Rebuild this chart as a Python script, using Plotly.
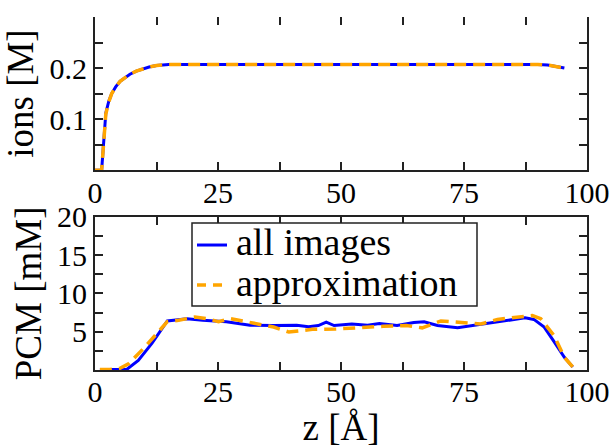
import plotly.graph_objects as go

# ---- data ----
ions_z = [0, 1.35, 2.2, 2.8, 3.4, 4.2, 5.1, 6.0, 7.1, 8.4, 9.8, 11.0, 12.5, 15, 20, 25, 30, 35, 40, 45, 50, 55, 60, 65, 70, 75, 80, 85, 90, 92, 95.4]
ions_all = [0, 0, 0.112, 0.135, 0.150, 0.163, 0.174, 0.181, 0.188, 0.194, 0.199, 0.202, 0.205, 0.207, 0.207, 0.207, 0.207, 0.207, 0.208, 0.207, 0.208, 0.208, 0.207, 0.207, 0.208, 0.207, 0.207, 0.207, 0.207, 0.206, 0.200]
ions_apx = [0, 0, 0.110, 0.134, 0.150, 0.163, 0.174, 0.181, 0.188, 0.194, 0.199, 0.202, 0.205, 0.207, 0.207, 0.207, 0.207, 0.207, 0.207, 0.207, 0.208, 0.208, 0.207, 0.207, 0.208, 0.207, 0.207, 0.207, 0.207, 0.206, 0.200]

pcm_z_all = [1, 2, 4, 6.5, 8.8, 11.6, 14.7, 18.7, 21.9, 26.7, 31.5, 36.3, 41, 43.4, 45.4, 47, 48.6, 52.2, 55.4, 57.8, 61.4, 64.8, 66.9, 69.6, 73.7, 77.7, 81.1, 85.1, 87.4, 89.2, 91.3, 93.3, 95.4, 97.1]
pcm_all = [0.05, 0.05, 0.05, 0.1, 1.24, 3.5, 6.4, 6.7, 6.5, 6.3, 5.85, 5.8, 5.85, 5.65, 5.8, 6.25, 5.8, 6.0, 5.85, 6.05, 5.8, 6.2, 6.3, 5.8, 5.5, 5.9, 6.2, 6.6, 6.8, 6.6, 5.6, 3.7, 1.65, 0.4]

pcm_z_apx = [1, 3, 5, 6.8, 10, 14.7, 17, 20.3, 22.7, 25.1, 27.5, 32.3, 36.3, 39.4, 44.2, 49, 53.8, 58.6, 63.3, 66.5, 70.3, 74.4, 78.4, 81.8, 86.5, 88.9, 90.6, 93.3, 95.4, 97.1]
pcm_apx = [0.05, 0.05, 0.2, 0.8, 2.9, 6.3, 6.5, 6.9, 6.7, 6.3, 6.7, 6.1, 5.6, 4.95, 5.3, 5.35, 5.55, 5.7, 5.8, 5.5, 6.4, 6.2, 6.0, 6.6, 6.9, 7.1, 6.7, 4.5, 1.65, 0.4]

series_names = ["all images", "approximation"]

x_ticks = [0, 25, 50, 75, 100]
x_minor = [12.5, 37.5, 62.5, 87.5]
ions_ticks = [0.1, 0.2]
ions_minor = [0.05, 0.15, 0.25]
pcm_ticks = [5, 10, 15, 20]
pcm_minor = [2.5, 7.5, 12.5, 17.5]

BLUE = "#0000ff"
ORANGE = "#ffa500"
FONT = "Liberation Serif, Times New Roman, Times, DejaVu Serif, serif"
AX = "#222222"
DASH = "12px,7px"

fig = go.Figure()
fig.add_trace(go.Scatter(x=ions_z, y=ions_all, mode="lines", line=dict(color=BLUE, width=3),
                         showlegend=False, xaxis="x", yaxis="y"))
fig.add_trace(go.Scatter(x=ions_z, y=ions_apx, mode="lines", line=dict(color=ORANGE, width=3.5, dash=DASH),
                         showlegend=False, xaxis="x", yaxis="y"))
fig.add_trace(go.Scatter(x=pcm_z_all, y=pcm_all, mode="lines", line=dict(color=BLUE, width=3),
                         name=series_names[0], showlegend=False, xaxis="x2", yaxis="y2"))
fig.add_trace(go.Scatter(x=pcm_z_apx, y=pcm_apx, mode="lines", line=dict(color=ORANGE, width=3.5, dash=DASH),
                         name=series_names[1], showlegend=False, xaxis="x2", yaxis="y2"))
# dummy trace for the top tick axis of the upper panel
fig.add_trace(go.Scatter(x=[None], y=[None], mode="lines", showlegend=False, xaxis="x3", yaxis="y", hoverinfo="skip"))

tickfont = dict(family=FONT, size=30, color="black")
titlefont = dict(family=FONT, size=37, color="black")

minor_common = dict(ticks="inside", ticklen=8, tickwidth=1.5, tickcolor=AX, showgrid=False)
common_x = dict(range=[0, 100], tickmode="array", tickvals=x_ticks, ticks="inside", ticklen=8,
                tickwidth=1.5, tickcolor=AX, showgrid=False, zeroline=False,
                minor=dict(tickmode="array", tickvals=x_minor, **minor_common))

# manual legend geometry (plot-area paper coords)
L, R, T, B = 95, 587, 0, 370
def px(x):
    return (x - L) / (R - L)
def py(y):
    return (B - y) / (B - T)

shapes = [
    dict(type="rect", xref="paper", yref="paper", x0=px(192), x1=px(477), y0=py(303), y1=py(216),
         line=dict(color=AX, width=1.5), fillcolor="white", layer="above"),
    dict(type="line", xref="paper", yref="paper", x0=px(197), x1=px(227), y0=py(239), y1=py(239),
         line=dict(color=BLUE, width=3), layer="above"),
    dict(type="line", xref="paper", yref="paper", x0=px(197), x1=px(229), y0=py(281), y1=py(281),
         line=dict(color=ORANGE, width=3.5, dash="9px,7px"), layer="above"),
]
annotations = [
    dict(text=series_names[0], xref="paper", yref="paper", x=px(234), y=py(236), xanchor="left",
         yanchor="middle", showarrow=False, font=dict(family=FONT, size=38, color="black")),
    dict(text=series_names[1], xref="paper", yref="paper", x=px(234), y=py(279), xanchor="left",
         yanchor="middle", showarrow=False, font=dict(family=FONT, size=38, color="black")),
]

fig.update_layout(
    width=614, height=448,
    margin=dict(l=95, r=27, t=0, b=78),
    paper_bgcolor="white", plot_bgcolor="white",
    font=dict(family=FONT, color="black"),
    showlegend=False,
    shapes=shapes,
    annotations=annotations,
    xaxis=dict(domain=[0, 1], anchor="y", showline=True, linecolor=AX, linewidth=2, mirror=False,
               tickfont=tickfont, ticklabelstandoff=-5, **common_x),
    xaxis3=dict(overlaying="x", anchor="y", side="top", showline=False, showticklabels=False, **common_x),
    yaxis=dict(domain=[0.5662, 1], anchor="x", range=[0, 0.3], tickmode="array", tickvals=ions_ticks,
               ticktext=["0.1", "0.2"], ticks="inside", ticklen=8, tickwidth=1.5, tickcolor=AX,
               showline=True, linecolor=AX, linewidth=2, mirror="ticks", showgrid=False, zeroline=False,
               tickfont=tickfont, title=dict(text="ions [M]", font=titlefont, standoff=7),
               minor=dict(tickmode="array", tickvals=ions_minor, **minor_common)),
    xaxis2=dict(domain=[0, 1], anchor="y2", showline=True, linecolor=AX, linewidth=2, mirror="ticks",
                tickfont=tickfont, ticklabelstandoff=-6,
                title=dict(text="z [Å]", font=titlefont, standoff=6), **common_x),
    yaxis2=dict(domain=[0, 0.4343], anchor="x2", range=[0, 20], tickmode="array", tickvals=pcm_ticks,
                ticks="inside", ticklen=8, tickwidth=1.5, tickcolor=AX,
                showline=True, linecolor=AX, linewidth=2, mirror="ticks", showgrid=False, zeroline=False,
                tickfont=tickfont, title=dict(text="PCM [mM]", font=titlefont, standoff=4),
                minor=dict(tickmode="array", tickvals=pcm_minor, **minor_common)),
)

fig.write_html("out.html", config={"displayModeBar": False},
               post_script="document.body.style.margin='0';document.body.style.padding='0';"
                           "document.documentElement.style.overflow='hidden';document.body.style.overflow='hidden';")
